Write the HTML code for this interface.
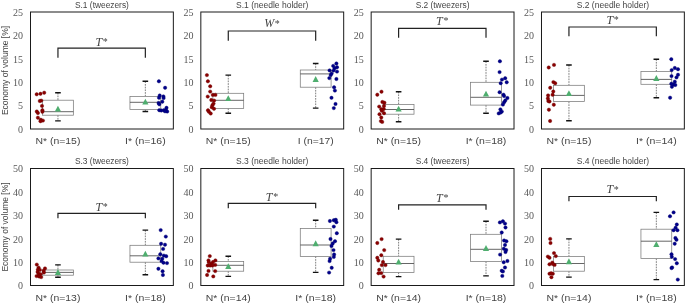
<!DOCTYPE html>
<html lang="en">
<head>
<meta charset="utf-8">
<title>Economy of volume</title>
<style>
html,body{margin:0;padding:0;background:#ffffff;}
body{width:685px;height:304px;overflow:hidden;}
svg{display:block;will-change:transform;}
</style>
</head>
<body>
<svg width="685" height="304" viewBox="0 0 685 304">
<rect x="0" y="0" width="685" height="304" fill="#ffffff"/>
<g>
<text x="101.92" y="7.8" font-family="'Liberation Sans', sans-serif" font-size="9.7" text-anchor="middle" fill="#444444" textLength="53.9" lengthAdjust="spacingAndGlyphs">S.1 (tweezers)</text>
<text x="23.1" y="132.8" font-family="'Liberation Serif', serif" font-size="10" text-anchor="end" fill="#585858">0</text>
<text x="23.1" y="109.4" font-family="'Liberation Serif', serif" font-size="10" text-anchor="end" fill="#585858">5</text>
<text x="23.1" y="86" font-family="'Liberation Serif', serif" font-size="10" text-anchor="end" fill="#585858">10</text>
<text x="23.1" y="62.6" font-family="'Liberation Serif', serif" font-size="10" text-anchor="end" fill="#585858">15</text>
<text x="23.1" y="39.2" font-family="'Liberation Serif', serif" font-size="10" text-anchor="end" fill="#585858">20</text>
<text x="23.1" y="15.8" font-family="'Liberation Serif', serif" font-size="10" text-anchor="end" fill="#585858">25</text>
<text x="57.95" y="144" font-family="'Liberation Sans', sans-serif" font-size="9.9" text-anchor="middle" fill="#444444" textLength="44.9" lengthAdjust="spacingAndGlyphs">N* (n=15)</text>
<text x="145.35" y="144" font-family="'Liberation Sans', sans-serif" font-size="9.9" text-anchor="middle" fill="#444444" textLength="40.7" lengthAdjust="spacingAndGlyphs">I* (n=16)</text>
<path d="M57.95 57.7 V48.2 H145.35 V57.7" fill="none" stroke="#222222" stroke-width="1.2"/>
<text x="101.65" y="45.8" font-family="'Liberation Serif', serif" font-style="italic" font-size="12" text-anchor="middle" fill="#444444">T<tspan font-size="10" dy="-0.9" dx="0.7" font-style="normal">*</tspan></text>
<path d="M57.95 92.8 V100.2 M57.95 115.2 V120.9" stroke="#3a3a3a" stroke-width="0.65" stroke-dasharray="1.7 1" fill="none"/>
<path d="M55.15 92.8 H60.75 M55.15 120.9 H60.75" stroke="#111" stroke-width="1.4" fill="none"/>
<rect x="42.55" y="100.2" width="30.8" height="15" fill="#ffffff" stroke="#7a7a7a" stroke-width="0.75"/>
<path d="M42.55 111.7 H73.35" stroke="#4a4a4a" stroke-width="0.85" fill="none"/>
<path d="M57.95 105.7 L61.05 111.6 L54.85 111.6 Z" fill="#4fae6f"/>
<g fill="#8b0000" stroke="#6d0000" stroke-width="0.4">
<circle cx="36.7" cy="94.3" r="1.7"/>
<circle cx="40.5" cy="93.8" r="1.7"/>
<circle cx="44.2" cy="92.7" r="1.7"/>
<circle cx="39.8" cy="101" r="1.7"/>
<circle cx="41.3" cy="100.6" r="1.7"/>
<circle cx="42" cy="105.9" r="1.7"/>
<circle cx="42.4" cy="110.2" r="1.7"/>
<circle cx="42.4" cy="111.8" r="1.7"/>
<circle cx="36.8" cy="111.5" r="1.7"/>
<circle cx="37.9" cy="113" r="1.7"/>
<circle cx="37.9" cy="117.7" r="1.7"/>
<circle cx="40.8" cy="119.8" r="1.7"/>
<circle cx="42.9" cy="120.6" r="1.7"/>
<circle cx="40.5" cy="121.2" r="1.7"/>
</g>
<path d="M145.35 81.3 V96.4 M145.35 109.6 V111.5" stroke="#3a3a3a" stroke-width="0.65" stroke-dasharray="1.7 1" fill="none"/>
<path d="M142.55 81.3 H148.15 M142.55 111.5 H148.15" stroke="#111" stroke-width="1.4" fill="none"/>
<rect x="129.95" y="96.4" width="30.8" height="13.2" fill="#ffffff" stroke="#7a7a7a" stroke-width="0.75"/>
<path d="M129.95 102.3 H160.75" stroke="#4a4a4a" stroke-width="0.85" fill="none"/>
<path d="M145.35 98.7 L148.45 104.6 L142.25 104.6 Z" fill="#4fae6f"/>
<g fill="#00008b" stroke="#00006b" stroke-width="0.4">
<circle cx="158.9" cy="81.3" r="1.7"/>
<circle cx="165.1" cy="87.8" r="1.7"/>
<circle cx="159.7" cy="95.5" r="1.7"/>
<circle cx="163.4" cy="96.4" r="1.7"/>
<circle cx="159" cy="97.7" r="1.7"/>
<circle cx="163.6" cy="98.1" r="1.7"/>
<circle cx="162.3" cy="101.7" r="1.7"/>
<circle cx="158.6" cy="103" r="1.7"/>
<circle cx="159.3" cy="104.3" r="1.7"/>
<circle cx="166.5" cy="107.8" r="1.7"/>
<circle cx="159.3" cy="110.2" r="1.7"/>
<circle cx="161.3" cy="110.5" r="1.7"/>
<circle cx="163.9" cy="110.2" r="1.7"/>
<circle cx="165.9" cy="110" r="1.7"/>
<circle cx="167.2" cy="111.5" r="1.7"/>
<circle cx="165" cy="111.3" r="1.7"/>
</g>
<rect x="30.5" y="12" width="142.85" height="117" fill="none" stroke="#1a1a1a" stroke-width="1"/>
</g>
<g>
<text x="272.25" y="7.8" font-family="'Liberation Sans', sans-serif" font-size="9.7" text-anchor="middle" fill="#444444" textLength="72.4" lengthAdjust="spacingAndGlyphs">S.1 (needle holder)</text>
<text x="193.43" y="132.8" font-family="'Liberation Serif', serif" font-size="10" text-anchor="end" fill="#585858">0</text>
<text x="193.43" y="109.4" font-family="'Liberation Serif', serif" font-size="10" text-anchor="end" fill="#585858">5</text>
<text x="193.43" y="86" font-family="'Liberation Serif', serif" font-size="10" text-anchor="end" fill="#585858">10</text>
<text x="193.43" y="62.6" font-family="'Liberation Serif', serif" font-size="10" text-anchor="end" fill="#585858">15</text>
<text x="193.43" y="39.2" font-family="'Liberation Serif', serif" font-size="10" text-anchor="end" fill="#585858">20</text>
<text x="193.43" y="15.8" font-family="'Liberation Serif', serif" font-size="10" text-anchor="end" fill="#585858">25</text>
<text x="228.28" y="144" font-family="'Liberation Sans', sans-serif" font-size="9.9" text-anchor="middle" fill="#444444" textLength="44.9" lengthAdjust="spacingAndGlyphs">N* (n=15)</text>
<text x="315.68" y="144" font-family="'Liberation Sans', sans-serif" font-size="9.9" text-anchor="middle" fill="#444444" textLength="36" lengthAdjust="spacingAndGlyphs">I (n=17)</text>
<path d="M228.28 40.7 V31 H315.68 V40.7" fill="none" stroke="#222222" stroke-width="1.2"/>
<text x="271.98" y="27.4" font-family="'Liberation Serif', serif" font-style="italic" font-size="12" text-anchor="middle" fill="#444444">W<tspan font-size="10" dy="-0.9" dx="0.7" font-style="normal">*</tspan></text>
<path d="M228.28 75.1 V93.3 M228.28 108.4 V113.3" stroke="#3a3a3a" stroke-width="0.65" stroke-dasharray="1.7 1" fill="none"/>
<path d="M225.48 75.1 H231.08 M225.48 113.3 H231.08" stroke="#111" stroke-width="1.4" fill="none"/>
<rect x="212.88" y="93.3" width="30.8" height="15.1" fill="#ffffff" stroke="#7a7a7a" stroke-width="0.75"/>
<path d="M212.88 100.3 H243.68" stroke="#4a4a4a" stroke-width="0.85" fill="none"/>
<path d="M228.28 95.2 L231.38 101.1 L225.18 101.1 Z" fill="#4fae6f"/>
<g fill="#8b0000" stroke="#6d0000" stroke-width="0.4">
<circle cx="206.9" cy="75.1" r="1.7"/>
<circle cx="207.9" cy="81.3" r="1.7"/>
<circle cx="210.2" cy="86.3" r="1.7"/>
<circle cx="210.2" cy="91.6" r="1.7"/>
<circle cx="212.8" cy="94.9" r="1.7"/>
<circle cx="215.4" cy="94.9" r="1.7"/>
<circle cx="207.7" cy="96.6" r="1.7"/>
<circle cx="211.3" cy="100" r="1.7"/>
<circle cx="214.1" cy="100.6" r="1.7"/>
<circle cx="213.5" cy="103.6" r="1.7"/>
<circle cx="212.4" cy="105.3" r="1.7"/>
<circle cx="211.8" cy="107.3" r="1.7"/>
<circle cx="214" cy="108.8" r="1.7"/>
<circle cx="208" cy="110.3" r="1.7"/>
<circle cx="208.9" cy="111.8" r="1.7"/>
<circle cx="210.7" cy="113.5" r="1.7"/>
</g>
<path d="M315.68 63.5 V70 M315.68 87.2 V108.1" stroke="#3a3a3a" stroke-width="0.65" stroke-dasharray="1.7 1" fill="none"/>
<path d="M312.88 63.5 H318.48 M312.88 108.1 H318.48" stroke="#111" stroke-width="1.4" fill="none"/>
<rect x="300.28" y="70" width="30.8" height="17.2" fill="#ffffff" stroke="#7a7a7a" stroke-width="0.75"/>
<path d="M300.28 73.9 H331.08" stroke="#4a4a4a" stroke-width="0.85" fill="none"/>
<path d="M315.68 76 L318.78 81.9 L312.58 81.9 Z" fill="#4fae6f"/>
<g fill="#00008b" stroke="#00006b" stroke-width="0.4">
<circle cx="336.4" cy="63.5" r="1.7"/>
<circle cx="333.2" cy="65.9" r="1.7"/>
<circle cx="337" cy="67.2" r="1.7"/>
<circle cx="334.6" cy="68.3" r="1.7"/>
<circle cx="329.6" cy="70.4" r="1.7"/>
<circle cx="333.5" cy="70.6" r="1.7"/>
<circle cx="337" cy="71.6" r="1.7"/>
<circle cx="330.7" cy="75.1" r="1.7"/>
<circle cx="331.6" cy="73.6" r="1.7"/>
<circle cx="329.3" cy="78.1" r="1.7"/>
<circle cx="336.4" cy="79" r="1.7"/>
<circle cx="334.1" cy="87.3" r="1.7"/>
<circle cx="334.9" cy="90.6" r="1.7"/>
<circle cx="331.5" cy="97.8" r="1.7"/>
<circle cx="335.5" cy="104" r="1.7"/>
<circle cx="333.8" cy="108.1" r="1.7"/>
</g>
<rect x="200.83" y="12" width="142.85" height="117" fill="none" stroke="#1a1a1a" stroke-width="1"/>
</g>
<g>
<text x="442.59" y="7.8" font-family="'Liberation Sans', sans-serif" font-size="9.7" text-anchor="middle" fill="#444444" textLength="53.9" lengthAdjust="spacingAndGlyphs">S.2 (tweezers)</text>
<text x="363.76" y="132.8" font-family="'Liberation Serif', serif" font-size="10" text-anchor="end" fill="#585858">0</text>
<text x="363.76" y="109.4" font-family="'Liberation Serif', serif" font-size="10" text-anchor="end" fill="#585858">5</text>
<text x="363.76" y="86" font-family="'Liberation Serif', serif" font-size="10" text-anchor="end" fill="#585858">10</text>
<text x="363.76" y="62.6" font-family="'Liberation Serif', serif" font-size="10" text-anchor="end" fill="#585858">15</text>
<text x="363.76" y="39.2" font-family="'Liberation Serif', serif" font-size="10" text-anchor="end" fill="#585858">20</text>
<text x="363.76" y="15.8" font-family="'Liberation Serif', serif" font-size="10" text-anchor="end" fill="#585858">25</text>
<text x="398.61" y="144" font-family="'Liberation Sans', sans-serif" font-size="9.9" text-anchor="middle" fill="#444444" textLength="44.9" lengthAdjust="spacingAndGlyphs">N* (n=15)</text>
<text x="486.01" y="144" font-family="'Liberation Sans', sans-serif" font-size="9.9" text-anchor="middle" fill="#444444" textLength="40.7" lengthAdjust="spacingAndGlyphs">I* (n=18)</text>
<path d="M398.61 37.7 V28.4 H486.01 V37.7" fill="none" stroke="#222222" stroke-width="1.2"/>
<text x="442.31" y="25.3" font-family="'Liberation Serif', serif" font-style="italic" font-size="12" text-anchor="middle" fill="#444444">T<tspan font-size="10" dy="-0.9" dx="0.7" font-style="normal">*</tspan></text>
<path d="M398.61 91.7 V104.4 M398.61 114.2 V121.7" stroke="#3a3a3a" stroke-width="0.65" stroke-dasharray="1.7 1" fill="none"/>
<path d="M395.81 91.7 H401.41 M395.81 121.7 H401.41" stroke="#111" stroke-width="1.4" fill="none"/>
<rect x="383.21" y="104.4" width="30.8" height="9.8" fill="#ffffff" stroke="#7a7a7a" stroke-width="0.75"/>
<path d="M383.21 109.5 H414.01" stroke="#4a4a4a" stroke-width="0.85" fill="none"/>
<path d="M398.61 105.7 L401.71 111.6 L395.51 111.6 Z" fill="#4fae6f"/>
<g fill="#8b0000" stroke="#6d0000" stroke-width="0.4">
<circle cx="381.5" cy="91.7" r="1.7"/>
<circle cx="377.3" cy="94.7" r="1.7"/>
<circle cx="382.4" cy="102" r="1.7"/>
<circle cx="384.4" cy="102.7" r="1.7"/>
<circle cx="379.2" cy="106.6" r="1.7"/>
<circle cx="384" cy="105.9" r="1.7"/>
<circle cx="381.3" cy="109.2" r="1.7"/>
<circle cx="383.8" cy="108.9" r="1.7"/>
<circle cx="381.8" cy="110.7" r="1.7"/>
<circle cx="384" cy="113.2" r="1.7"/>
<circle cx="379.5" cy="114.2" r="1.7"/>
<circle cx="381.3" cy="117.5" r="1.7"/>
<circle cx="380.9" cy="121.1" r="1.7"/>
<circle cx="382.2" cy="121.9" r="1.7"/>
</g>
<path d="M486.01 61.3 V82.3 M486.01 105.1 V113.2" stroke="#3a3a3a" stroke-width="0.65" stroke-dasharray="1.7 1" fill="none"/>
<path d="M483.21 61.3 H488.81 M483.21 113.2 H488.81" stroke="#111" stroke-width="1.4" fill="none"/>
<rect x="470.61" y="82.3" width="30.8" height="22.8" fill="#ffffff" stroke="#7a7a7a" stroke-width="0.75"/>
<path d="M470.61 97.3 H501.41" stroke="#4a4a4a" stroke-width="0.85" fill="none"/>
<path d="M486.01 90.7 L489.11 96.6 L482.91 96.6 Z" fill="#4fae6f"/>
<g fill="#00008b" stroke="#00006b" stroke-width="0.4">
<circle cx="499.9" cy="61.3" r="1.7"/>
<circle cx="499.6" cy="72.1" r="1.7"/>
<circle cx="505.2" cy="78.2" r="1.7"/>
<circle cx="502" cy="79.6" r="1.7"/>
<circle cx="500.7" cy="83.2" r="1.7"/>
<circle cx="506.7" cy="82.3" r="1.7"/>
<circle cx="499.6" cy="92.2" r="1.7"/>
<circle cx="503.5" cy="94.7" r="1.7"/>
<circle cx="504.1" cy="96.1" r="1.7"/>
<circle cx="507.4" cy="98" r="1.7"/>
<circle cx="505.3" cy="100.5" r="1.7"/>
<circle cx="504.1" cy="102.2" r="1.7"/>
<circle cx="502.9" cy="104.6" r="1.7"/>
<circle cx="500.4" cy="109.4" r="1.7"/>
<circle cx="501.8" cy="111.6" r="1.7"/>
<circle cx="498.7" cy="113.4" r="1.7"/>
<circle cx="500.6" cy="112.6" r="1.7"/>
</g>
<rect x="371.16" y="12" width="142.85" height="117" fill="none" stroke="#1a1a1a" stroke-width="1"/>
</g>
<g>
<text x="612.91" y="7.8" font-family="'Liberation Sans', sans-serif" font-size="9.7" text-anchor="middle" fill="#444444" textLength="72.4" lengthAdjust="spacingAndGlyphs">S.2 (needle holder)</text>
<text x="534.09" y="132.8" font-family="'Liberation Serif', serif" font-size="10" text-anchor="end" fill="#585858">0</text>
<text x="534.09" y="109.4" font-family="'Liberation Serif', serif" font-size="10" text-anchor="end" fill="#585858">5</text>
<text x="534.09" y="86" font-family="'Liberation Serif', serif" font-size="10" text-anchor="end" fill="#585858">10</text>
<text x="534.09" y="62.6" font-family="'Liberation Serif', serif" font-size="10" text-anchor="end" fill="#585858">15</text>
<text x="534.09" y="39.2" font-family="'Liberation Serif', serif" font-size="10" text-anchor="end" fill="#585858">20</text>
<text x="534.09" y="15.8" font-family="'Liberation Serif', serif" font-size="10" text-anchor="end" fill="#585858">25</text>
<text x="568.94" y="144" font-family="'Liberation Sans', sans-serif" font-size="9.9" text-anchor="middle" fill="#444444" textLength="44.9" lengthAdjust="spacingAndGlyphs">N* (n=15)</text>
<text x="656.34" y="144" font-family="'Liberation Sans', sans-serif" font-size="9.9" text-anchor="middle" fill="#444444" textLength="40.7" lengthAdjust="spacingAndGlyphs">I* (n=14)</text>
<path d="M568.94 36.3 V27 H656.34 V36.3" fill="none" stroke="#222222" stroke-width="1.2"/>
<text x="612.64" y="23.5" font-family="'Liberation Serif', serif" font-style="italic" font-size="12" text-anchor="middle" fill="#444444">T<tspan font-size="10" dy="-0.9" dx="0.7" font-style="normal">*</tspan></text>
<path d="M568.94 65 V85.3 M568.94 101.6 V120.7" stroke="#3a3a3a" stroke-width="0.65" stroke-dasharray="1.7 1" fill="none"/>
<path d="M566.14 65 H571.74 M566.14 120.7 H571.74" stroke="#111" stroke-width="1.4" fill="none"/>
<rect x="553.54" y="85.3" width="30.8" height="16.3" fill="#ffffff" stroke="#7a7a7a" stroke-width="0.75"/>
<path d="M553.54 95.4 H584.34" stroke="#4a4a4a" stroke-width="0.85" fill="none"/>
<path d="M568.94 90.2 L572.04 96.1 L565.84 96.1 Z" fill="#4fae6f"/>
<g fill="#8b0000" stroke="#6d0000" stroke-width="0.4">
<circle cx="554" cy="64.9" r="1.7"/>
<circle cx="548.7" cy="67.5" r="1.7"/>
<circle cx="553.4" cy="82.1" r="1.7"/>
<circle cx="555.2" cy="83.2" r="1.7"/>
<circle cx="550.2" cy="87.8" r="1.7"/>
<circle cx="553.3" cy="91.5" r="1.7"/>
<circle cx="552.6" cy="94.8" r="1.7"/>
<circle cx="548.1" cy="95.4" r="1.7"/>
<circle cx="547.9" cy="98.4" r="1.7"/>
<circle cx="548.3" cy="101.1" r="1.7"/>
<circle cx="549.5" cy="101.5" r="1.7"/>
<circle cx="553.8" cy="104.7" r="1.7"/>
<circle cx="548.9" cy="109.7" r="1.7"/>
<circle cx="550.1" cy="121" r="1.7"/>
</g>
<path d="M656.34 59.2 V71.6 M656.34 84.3 V97.7" stroke="#3a3a3a" stroke-width="0.65" stroke-dasharray="1.7 1" fill="none"/>
<path d="M653.54 59.2 H659.14 M653.54 97.7 H659.14" stroke="#111" stroke-width="1.4" fill="none"/>
<rect x="640.94" y="71.6" width="30.8" height="12.7" fill="#ffffff" stroke="#7a7a7a" stroke-width="0.75"/>
<path d="M640.94 79.4 H671.74" stroke="#4a4a4a" stroke-width="0.85" fill="none"/>
<path d="M656.34 75.1 L659.44 81 L653.24 81 Z" fill="#4fae6f"/>
<g fill="#00008b" stroke="#00006b" stroke-width="0.4">
<circle cx="671.3" cy="59.2" r="1.7"/>
<circle cx="674.8" cy="68" r="1.7"/>
<circle cx="678" cy="69.2" r="1.7"/>
<circle cx="671.7" cy="70.1" r="1.7"/>
<circle cx="671.5" cy="76.1" r="1.7"/>
<circle cx="678" cy="74.8" r="1.7"/>
<circle cx="676.5" cy="77.4" r="1.7"/>
<circle cx="674.8" cy="81.7" r="1.7"/>
<circle cx="671.3" cy="83.8" r="1.7"/>
<circle cx="673.3" cy="84.5" r="1.7"/>
<circle cx="675.3" cy="85" r="1.7"/>
<circle cx="671.9" cy="86.8" r="1.7"/>
<circle cx="670.1" cy="97.7" r="1.7"/>
</g>
<rect x="541.49" y="12" width="142.85" height="117" fill="none" stroke="#1a1a1a" stroke-width="1"/>
</g>
<g>
<text x="101.92" y="163.8" font-family="'Liberation Sans', sans-serif" font-size="9.7" text-anchor="middle" fill="#444444" textLength="53.9" lengthAdjust="spacingAndGlyphs">S.3 (tweezers)</text>
<text x="23.1" y="289.3" font-family="'Liberation Serif', serif" font-size="10" text-anchor="end" fill="#585858">0</text>
<text x="23.1" y="265.9" font-family="'Liberation Serif', serif" font-size="10" text-anchor="end" fill="#585858">10</text>
<text x="23.1" y="242.5" font-family="'Liberation Serif', serif" font-size="10" text-anchor="end" fill="#585858">20</text>
<text x="23.1" y="219.1" font-family="'Liberation Serif', serif" font-size="10" text-anchor="end" fill="#585858">30</text>
<text x="23.1" y="195.7" font-family="'Liberation Serif', serif" font-size="10" text-anchor="end" fill="#585858">40</text>
<text x="23.1" y="172.3" font-family="'Liberation Serif', serif" font-size="10" text-anchor="end" fill="#585858">50</text>
<text x="57.95" y="300.5" font-family="'Liberation Sans', sans-serif" font-size="9.9" text-anchor="middle" fill="#444444" textLength="44.9" lengthAdjust="spacingAndGlyphs">N* (n=13)</text>
<text x="145.35" y="300.5" font-family="'Liberation Sans', sans-serif" font-size="9.9" text-anchor="middle" fill="#444444" textLength="40.7" lengthAdjust="spacingAndGlyphs">I* (n=18)</text>
<path d="M57.95 218.3 V213.4 H145.35 V218.3" fill="none" stroke="#222222" stroke-width="1.2"/>
<text x="101.65" y="211.2" font-family="'Liberation Serif', serif" font-style="italic" font-size="12" text-anchor="middle" fill="#444444">T<tspan font-size="10" dy="-0.9" dx="0.7" font-style="normal">*</tspan></text>
<path d="M57.95 264.9 V270 M57.95 275.2 V277.3" stroke="#3a3a3a" stroke-width="0.65" stroke-dasharray="1.7 1" fill="none"/>
<path d="M55.15 264.9 H60.75 M55.15 277.3 H60.75" stroke="#111" stroke-width="1.4" fill="none"/>
<rect x="42.55" y="270" width="30.8" height="5.2" fill="#ffffff" stroke="#7a7a7a" stroke-width="0.75"/>
<path d="M42.55 272.4 H73.35" stroke="#4a4a4a" stroke-width="0.85" fill="none"/>
<path d="M57.95 269 L61.05 274.9 L54.85 274.9 Z" fill="#4fae6f"/>
<g fill="#8b0000" stroke="#6d0000" stroke-width="0.4">
<circle cx="36.8" cy="264.6" r="1.7"/>
<circle cx="38.6" cy="267.6" r="1.7"/>
<circle cx="45" cy="268.4" r="1.7"/>
<circle cx="37.9" cy="269.6" r="1.7"/>
<circle cx="39.9" cy="269.9" r="1.7"/>
<circle cx="43.7" cy="270.8" r="1.7"/>
<circle cx="37.6" cy="271.9" r="1.7"/>
<circle cx="43.9" cy="272.6" r="1.7"/>
<circle cx="38.6" cy="273.8" r="1.7"/>
<circle cx="40.5" cy="274.2" r="1.7"/>
<circle cx="36.6" cy="276.1" r="1.7"/>
<circle cx="39.2" cy="276.5" r="1.7"/>
<circle cx="41.2" cy="277.1" r="1.7"/>
</g>
<path d="M145.35 230.1 V245.3 M145.35 262.2 V274.7" stroke="#3a3a3a" stroke-width="0.65" stroke-dasharray="1.7 1" fill="none"/>
<path d="M142.55 230.1 H148.15 M142.55 274.7 H148.15" stroke="#111" stroke-width="1.4" fill="none"/>
<rect x="129.95" y="245.3" width="30.8" height="16.9" fill="#ffffff" stroke="#7a7a7a" stroke-width="0.75"/>
<path d="M129.95 255.8 H160.75" stroke="#4a4a4a" stroke-width="0.85" fill="none"/>
<path d="M145.35 250.7 L148.45 256.6 L142.25 256.6 Z" fill="#4fae6f"/>
<g fill="#00008b" stroke="#00006b" stroke-width="0.4">
<circle cx="160.7" cy="230.1" r="1.7"/>
<circle cx="165.8" cy="236.6" r="1.7"/>
<circle cx="161.1" cy="243.8" r="1.7"/>
<circle cx="165" cy="244.7" r="1.7"/>
<circle cx="163.1" cy="248.9" r="1.7"/>
<circle cx="160.3" cy="254.2" r="1.7"/>
<circle cx="163.8" cy="255.6" r="1.7"/>
<circle cx="166.2" cy="256.3" r="1.7"/>
<circle cx="158.4" cy="258.4" r="1.7"/>
<circle cx="162.3" cy="258.7" r="1.7"/>
<circle cx="161.5" cy="261.1" r="1.7"/>
<circle cx="163.5" cy="262.7" r="1.7"/>
<circle cx="167" cy="263.1" r="1.7"/>
<circle cx="158.4" cy="268.8" r="1.7"/>
<circle cx="162.6" cy="271.2" r="1.7"/>
<circle cx="162.9" cy="275" r="1.7"/>
</g>
<rect x="30.5" y="168.5" width="142.85" height="117" fill="none" stroke="#1a1a1a" stroke-width="1"/>
</g>
<g>
<text x="272.25" y="163.8" font-family="'Liberation Sans', sans-serif" font-size="9.7" text-anchor="middle" fill="#444444" textLength="72.4" lengthAdjust="spacingAndGlyphs">S.3 (needle holder)</text>
<text x="193.43" y="289.3" font-family="'Liberation Serif', serif" font-size="10" text-anchor="end" fill="#585858">0</text>
<text x="193.43" y="265.9" font-family="'Liberation Serif', serif" font-size="10" text-anchor="end" fill="#585858">10</text>
<text x="193.43" y="242.5" font-family="'Liberation Serif', serif" font-size="10" text-anchor="end" fill="#585858">20</text>
<text x="193.43" y="219.1" font-family="'Liberation Serif', serif" font-size="10" text-anchor="end" fill="#585858">30</text>
<text x="193.43" y="195.7" font-family="'Liberation Serif', serif" font-size="10" text-anchor="end" fill="#585858">40</text>
<text x="193.43" y="172.3" font-family="'Liberation Serif', serif" font-size="10" text-anchor="end" fill="#585858">50</text>
<text x="228.28" y="300.5" font-family="'Liberation Sans', sans-serif" font-size="9.9" text-anchor="middle" fill="#444444" textLength="44.9" lengthAdjust="spacingAndGlyphs">N* (n=14)</text>
<text x="315.68" y="300.5" font-family="'Liberation Sans', sans-serif" font-size="9.9" text-anchor="middle" fill="#444444" textLength="40.7" lengthAdjust="spacingAndGlyphs">I* (n=18)</text>
<path d="M228.28 208.3 V203.4 H315.68 V208.3" fill="none" stroke="#222222" stroke-width="1.2"/>
<text x="271.98" y="201.2" font-family="'Liberation Serif', serif" font-style="italic" font-size="12" text-anchor="middle" fill="#444444">T<tspan font-size="10" dy="-0.9" dx="0.7" font-style="normal">*</tspan></text>
<path d="M228.28 256.3 V261.4 M228.28 271.2 V276.4" stroke="#3a3a3a" stroke-width="0.65" stroke-dasharray="1.7 1" fill="none"/>
<path d="M225.48 256.3 H231.08 M225.48 276.4 H231.08" stroke="#111" stroke-width="1.4" fill="none"/>
<rect x="212.88" y="261.4" width="30.8" height="9.8" fill="#ffffff" stroke="#7a7a7a" stroke-width="0.75"/>
<path d="M212.88 265.3 H243.68" stroke="#4a4a4a" stroke-width="0.85" fill="none"/>
<path d="M228.28 263.2 L231.38 269.1 L225.18 269.1 Z" fill="#4fae6f"/>
<g fill="#8b0000" stroke="#6d0000" stroke-width="0.4">
<circle cx="209.8" cy="256.1" r="1.7"/>
<circle cx="208.5" cy="260.4" r="1.7"/>
<circle cx="215.4" cy="260.4" r="1.7"/>
<circle cx="208.9" cy="262.3" r="1.7"/>
<circle cx="213" cy="262" r="1.7"/>
<circle cx="211.6" cy="263.8" r="1.7"/>
<circle cx="215.2" cy="264.9" r="1.7"/>
<circle cx="207.7" cy="265.5" r="1.7"/>
<circle cx="210.1" cy="265.5" r="1.7"/>
<circle cx="212.4" cy="265.5" r="1.7"/>
<circle cx="208.5" cy="270.9" r="1.7"/>
<circle cx="215.2" cy="271.1" r="1.7"/>
<circle cx="207.1" cy="275" r="1.7"/>
<circle cx="213.3" cy="276.4" r="1.7"/>
</g>
<path d="M315.68 220.2 V228.4 M315.68 256.4 V272.4" stroke="#3a3a3a" stroke-width="0.65" stroke-dasharray="1.7 1" fill="none"/>
<path d="M312.88 220.2 H318.48 M312.88 272.4 H318.48" stroke="#111" stroke-width="1.4" fill="none"/>
<rect x="300.28" y="228.4" width="30.8" height="28" fill="#ffffff" stroke="#7a7a7a" stroke-width="0.75"/>
<path d="M300.28 245 H331.08" stroke="#4a4a4a" stroke-width="0.85" fill="none"/>
<path d="M315.68 240.3 L318.78 246.2 L312.58 246.2 Z" fill="#4fae6f"/>
<g fill="#00008b" stroke="#00006b" stroke-width="0.4">
<circle cx="329.9" cy="221" r="1.7"/>
<circle cx="333.8" cy="220.2" r="1.7"/>
<circle cx="335.8" cy="219.8" r="1.7"/>
<circle cx="336.4" cy="222.2" r="1.7"/>
<circle cx="333.8" cy="226.6" r="1.7"/>
<circle cx="336.8" cy="233.2" r="1.7"/>
<circle cx="330.5" cy="239" r="1.7"/>
<circle cx="335" cy="241.2" r="1.7"/>
<circle cx="332.7" cy="243.5" r="1.7"/>
<circle cx="331.5" cy="246" r="1.7"/>
<circle cx="333.5" cy="250.1" r="1.7"/>
<circle cx="334.1" cy="254.5" r="1.7"/>
<circle cx="333.8" cy="256.9" r="1.7"/>
<circle cx="330.1" cy="258.8" r="1.7"/>
<circle cx="329.6" cy="261.1" r="1.7"/>
<circle cx="331.7" cy="267.8" r="1.7"/>
<circle cx="329.1" cy="272.6" r="1.7"/>
</g>
<rect x="200.83" y="168.5" width="142.85" height="117" fill="none" stroke="#1a1a1a" stroke-width="1"/>
</g>
<g>
<text x="442.59" y="163.8" font-family="'Liberation Sans', sans-serif" font-size="9.7" text-anchor="middle" fill="#444444" textLength="53.9" lengthAdjust="spacingAndGlyphs">S.4 (tweezers)</text>
<text x="363.76" y="289.3" font-family="'Liberation Serif', serif" font-size="10" text-anchor="end" fill="#585858">0</text>
<text x="363.76" y="265.9" font-family="'Liberation Serif', serif" font-size="10" text-anchor="end" fill="#585858">10</text>
<text x="363.76" y="242.5" font-family="'Liberation Serif', serif" font-size="10" text-anchor="end" fill="#585858">20</text>
<text x="363.76" y="219.1" font-family="'Liberation Serif', serif" font-size="10" text-anchor="end" fill="#585858">30</text>
<text x="363.76" y="195.7" font-family="'Liberation Serif', serif" font-size="10" text-anchor="end" fill="#585858">40</text>
<text x="363.76" y="172.3" font-family="'Liberation Serif', serif" font-size="10" text-anchor="end" fill="#585858">50</text>
<text x="398.61" y="300.5" font-family="'Liberation Sans', sans-serif" font-size="9.9" text-anchor="middle" fill="#444444" textLength="44.9" lengthAdjust="spacingAndGlyphs">N* (n=14)</text>
<text x="486.01" y="300.5" font-family="'Liberation Sans', sans-serif" font-size="9.9" text-anchor="middle" fill="#444444" textLength="40.7" lengthAdjust="spacingAndGlyphs">I* (n=18)</text>
<path d="M398.61 209.7 V204.8 H486.01 V209.7" fill="none" stroke="#222222" stroke-width="1.2"/>
<text x="442.31" y="202" font-family="'Liberation Serif', serif" font-style="italic" font-size="12" text-anchor="middle" fill="#444444">T<tspan font-size="10" dy="-0.9" dx="0.7" font-style="normal">*</tspan></text>
<path d="M398.61 239.1 V256.3 M398.61 272.4 V276.6" stroke="#3a3a3a" stroke-width="0.65" stroke-dasharray="1.7 1" fill="none"/>
<path d="M395.81 239.1 H401.41 M395.81 276.6 H401.41" stroke="#111" stroke-width="1.4" fill="none"/>
<rect x="383.21" y="256.3" width="30.8" height="16.1" fill="#ffffff" stroke="#7a7a7a" stroke-width="0.75"/>
<path d="M383.21 263.5 H414.01" stroke="#4a4a4a" stroke-width="0.85" fill="none"/>
<path d="M398.61 258.7 L401.71 264.6 L395.51 264.6 Z" fill="#4fae6f"/>
<g fill="#8b0000" stroke="#6d0000" stroke-width="0.4">
<circle cx="381.6" cy="239.1" r="1.7"/>
<circle cx="377.3" cy="243" r="1.7"/>
<circle cx="384.2" cy="250.1" r="1.7"/>
<circle cx="381.3" cy="255.2" r="1.7"/>
<circle cx="377.3" cy="257.8" r="1.7"/>
<circle cx="378.3" cy="260.5" r="1.7"/>
<circle cx="383" cy="262" r="1.7"/>
<circle cx="381.8" cy="265.1" r="1.7"/>
<circle cx="385.5" cy="265.1" r="1.7"/>
<circle cx="379.2" cy="269.8" r="1.7"/>
<circle cx="378.5" cy="273.3" r="1.7"/>
<circle cx="381.3" cy="273.1" r="1.7"/>
<circle cx="383.6" cy="276.6" r="1.7"/>
</g>
<path d="M486.01 221.3 V234.3 M486.01 261.5 V275.9" stroke="#3a3a3a" stroke-width="0.65" stroke-dasharray="1.7 1" fill="none"/>
<path d="M483.21 221.3 H488.81 M483.21 275.9 H488.81" stroke="#111" stroke-width="1.4" fill="none"/>
<rect x="470.61" y="234.3" width="30.8" height="27.2" fill="#ffffff" stroke="#7a7a7a" stroke-width="0.75"/>
<path d="M470.61 249.3 H501.41" stroke="#4a4a4a" stroke-width="0.85" fill="none"/>
<path d="M486.01 245 L489.11 250.9 L482.91 250.9 Z" fill="#4fae6f"/>
<g fill="#00008b" stroke="#00006b" stroke-width="0.4">
<circle cx="499.9" cy="222.4" r="1.7"/>
<circle cx="502.9" cy="221.3" r="1.7"/>
<circle cx="505" cy="223.6" r="1.7"/>
<circle cx="505.5" cy="227.5" r="1.7"/>
<circle cx="501.7" cy="232.5" r="1.7"/>
<circle cx="504.1" cy="240.5" r="1.7"/>
<circle cx="506.4" cy="241.3" r="1.7"/>
<circle cx="505" cy="245" r="1.7"/>
<circle cx="503.8" cy="248.8" r="1.7"/>
<circle cx="506.2" cy="250" r="1.7"/>
<circle cx="505.5" cy="252" r="1.7"/>
<circle cx="500.1" cy="254.6" r="1.7"/>
<circle cx="507.4" cy="261" r="1.7"/>
<circle cx="503.7" cy="262.3" r="1.7"/>
<circle cx="505" cy="267.5" r="1.7"/>
<circle cx="501.7" cy="270.8" r="1.7"/>
<circle cx="502.9" cy="271.4" r="1.7"/>
<circle cx="502.3" cy="275.9" r="1.7"/>
</g>
<rect x="371.16" y="168.5" width="142.85" height="117" fill="none" stroke="#1a1a1a" stroke-width="1"/>
</g>
<g>
<text x="612.91" y="163.8" font-family="'Liberation Sans', sans-serif" font-size="9.7" text-anchor="middle" fill="#444444" textLength="72.4" lengthAdjust="spacingAndGlyphs">S.4 (needle holder)</text>
<text x="534.09" y="289.3" font-family="'Liberation Serif', serif" font-size="10" text-anchor="end" fill="#585858">0</text>
<text x="534.09" y="265.9" font-family="'Liberation Serif', serif" font-size="10" text-anchor="end" fill="#585858">10</text>
<text x="534.09" y="242.5" font-family="'Liberation Serif', serif" font-size="10" text-anchor="end" fill="#585858">20</text>
<text x="534.09" y="219.1" font-family="'Liberation Serif', serif" font-size="10" text-anchor="end" fill="#585858">30</text>
<text x="534.09" y="195.7" font-family="'Liberation Serif', serif" font-size="10" text-anchor="end" fill="#585858">40</text>
<text x="534.09" y="172.3" font-family="'Liberation Serif', serif" font-size="10" text-anchor="end" fill="#585858">50</text>
<text x="568.94" y="300.5" font-family="'Liberation Sans', sans-serif" font-size="9.9" text-anchor="middle" fill="#444444" textLength="44.9" lengthAdjust="spacingAndGlyphs">N* (n=14)</text>
<text x="656.34" y="300.5" font-family="'Liberation Sans', sans-serif" font-size="9.9" text-anchor="middle" fill="#444444" textLength="40.7" lengthAdjust="spacingAndGlyphs">I* (n=18)</text>
<path d="M568.94 201.3 V196.5 H656.34 V201.3" fill="none" stroke="#222222" stroke-width="1.2"/>
<text x="612.64" y="193.4" font-family="'Liberation Serif', serif" font-style="italic" font-size="12" text-anchor="middle" fill="#444444">T<tspan font-size="10" dy="-0.9" dx="0.7" font-style="normal">*</tspan></text>
<path d="M568.94 238.9 V256.4 M568.94 271.2 V277.1" stroke="#3a3a3a" stroke-width="0.65" stroke-dasharray="1.7 1" fill="none"/>
<path d="M566.14 238.9 H571.74 M566.14 277.1 H571.74" stroke="#111" stroke-width="1.4" fill="none"/>
<rect x="553.54" y="256.4" width="30.8" height="14.8" fill="#ffffff" stroke="#7a7a7a" stroke-width="0.75"/>
<path d="M553.54 263.5 H584.34" stroke="#4a4a4a" stroke-width="0.85" fill="none"/>
<path d="M568.94 258.3 L572.04 264.2 L565.84 264.2 Z" fill="#4fae6f"/>
<g fill="#8b0000" stroke="#6d0000" stroke-width="0.4">
<circle cx="550.2" cy="238.9" r="1.7"/>
<circle cx="550.5" cy="243" r="1.7"/>
<circle cx="554" cy="253.1" r="1.7"/>
<circle cx="555.8" cy="256.1" r="1.7"/>
<circle cx="547.9" cy="256.6" r="1.7"/>
<circle cx="549.5" cy="257.8" r="1.7"/>
<circle cx="552.3" cy="262.6" r="1.7"/>
<circle cx="549.5" cy="264.3" r="1.7"/>
<circle cx="554.6" cy="264.9" r="1.7"/>
<circle cx="552.8" cy="264.1" r="1.7"/>
<circle cx="549.5" cy="273.7" r="1.7"/>
<circle cx="552.8" cy="273.7" r="1.7"/>
<circle cx="551.1" cy="273.3" r="1.7"/>
<circle cx="551.4" cy="277.2" r="1.7"/>
</g>
<path d="M656.34 212.4 V229.2 M656.34 258.5 V279.6" stroke="#3a3a3a" stroke-width="0.65" stroke-dasharray="1.7 1" fill="none"/>
<path d="M653.54 212.4 H659.14 M653.54 279.6 H659.14" stroke="#111" stroke-width="1.4" fill="none"/>
<rect x="640.94" y="229.2" width="30.8" height="29.3" fill="#ffffff" stroke="#7a7a7a" stroke-width="0.75"/>
<path d="M640.94 241.2 H671.74" stroke="#4a4a4a" stroke-width="0.85" fill="none"/>
<path d="M656.34 241.2 L659.44 247.1 L653.24 247.1 Z" fill="#4fae6f"/>
<g fill="#00008b" stroke="#00006b" stroke-width="0.4">
<circle cx="673.6" cy="212.4" r="1.7"/>
<circle cx="670" cy="216.3" r="1.7"/>
<circle cx="676.8" cy="224.5" r="1.7"/>
<circle cx="675.6" cy="227.8" r="1.7"/>
<circle cx="673.6" cy="230.2" r="1.7"/>
<circle cx="677.4" cy="230.2" r="1.7"/>
<circle cx="675.4" cy="238" r="1.7"/>
<circle cx="676.5" cy="239.8" r="1.7"/>
<circle cx="674.7" cy="243.7" r="1.7"/>
<circle cx="671.5" cy="254.3" r="1.7"/>
<circle cx="671.8" cy="256.8" r="1.7"/>
<circle cx="675.1" cy="259.1" r="1.7"/>
<circle cx="676.8" cy="263.3" r="1.7"/>
<circle cx="671.5" cy="268.1" r="1.7"/>
<circle cx="672.1" cy="267.5" r="1.7"/>
<circle cx="677.8" cy="279.6" r="1.7"/>
</g>
<rect x="541.49" y="168.5" width="142.85" height="117" fill="none" stroke="#1a1a1a" stroke-width="1"/>
</g>
<text transform="translate(7.8 70.5) rotate(-90)" font-family="'Liberation Sans', sans-serif" font-size="9.6" text-anchor="middle" fill="#444444" textLength="89.2" lengthAdjust="spacingAndGlyphs">Economy of volume [%]</text>
<text transform="translate(7.8 227) rotate(-90)" font-family="'Liberation Sans', sans-serif" font-size="9.6" text-anchor="middle" fill="#444444" textLength="89.2" lengthAdjust="spacingAndGlyphs">Economy of volume [%]</text>
</svg>
</body>
</html>
